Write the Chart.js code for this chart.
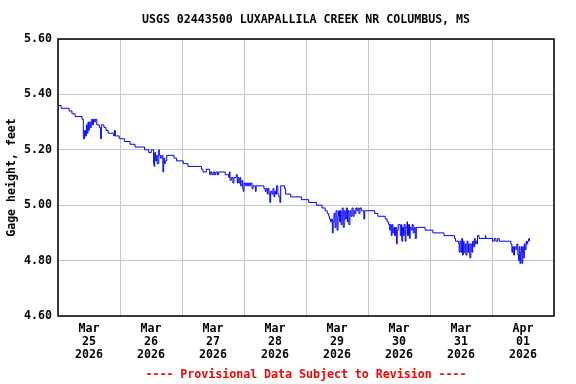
<!DOCTYPE html>
<html>
<head>
<meta charset="utf-8">
<script src="https://cdn.jsdelivr.net/npm/chart.js@4.4.0/dist/chart.umd.min.js"></script>
<style>
  html, body { margin: 0; padding: 0; background: #fff; }
  canvas { display: block; }
</style>
</head>
<body>
<canvas id="chart" width="576" height="384"></canvas>
<script>
// hours since 2026-03-25 00:00 and gage height in feet
const hours = [
  0.0, 1.2, 4.3, 5.4, 6.6, 9.3, 9.8, 10.3, 10.6, 11.0, 11.3, 11.6, 11.9, 12.1, 12.5, 12.9,
  13.4, 13.7, 14.2, 14.4, 15.0, 16.0, 16.5, 16.8, 17.8, 18.6, 19.4, 21.6, 21.9, 22.2, 23.7,
  25.7, 27.9, 29.8, 33.5, 35.1, 36.1, 37.0, 37.2, 37.4, 37.8, 38.2, 38.4, 39.0, 39.2, 39.7,
  40.2, 40.6, 40.9, 41.3, 41.5, 42.1, 44.9, 45.9, 48.5, 50.3, 55.5, 56.1, 57.4, 58.7, 59.1,
  59.6, 60.1, 60.6, 61.1, 61.7, 62.2, 64.7, 66.1, 66.3, 66.6, 67.1, 67.7, 68.1, 69.0, 69.4,
  69.7, 70.0, 70.4, 70.7, 71.2, 71.5, 71.7, 72.0, 72.5, 72.9, 73.3, 73.8, 74.2, 74.6, 75.1,
  75.5, 76.4, 76.7, 79.7, 80.2, 80.6, 81.0, 81.3, 81.7, 82.0, 82.3, 82.8, 83.2, 83.6, 83.9,
  84.2, 84.6, 85.1, 85.5, 85.9, 86.2, 87.7, 88.1, 90.1, 94.2, 97.0, 100.0, 102.2, 103.4,
  104.2, 104.8, 105.1, 105.5, 105.8, 106.2, 106.5, 106.8, 107.2, 107.6, 108.0, 108.4, 108.6,
  109.0, 109.4, 109.6, 110.0, 110.4, 110.8, 111.2, 111.6, 112.0, 112.2, 112.6, 113.0, 113.4,
  113.8, 114.2, 114.6, 114.9, 115.3, 115.7, 116.1, 116.5, 116.9, 117.4, 118.4, 118.7, 122.6,
  123.8, 126.7, 127.4, 128.0, 128.4, 128.6, 129.0, 129.3, 129.6, 130.0, 130.3, 130.7, 131.1,
  131.3, 131.7, 132.5, 132.9, 133.1, 133.4, 133.8, 134.0, 134.4, 134.7, 135.1, 135.3, 135.7,
  136.1, 136.3, 136.7, 137.1, 137.5, 137.9, 138.3, 138.7, 142.1, 145.1, 149.4, 153.5, 153.9,
  155.1, 155.3, 155.6, 156.0, 156.3, 156.6, 156.9, 157.2, 157.6, 157.9, 158.3, 158.7, 158.9,
  159.4, 159.8, 160.2, 160.5, 160.9, 161.3, 161.5, 161.8, 162.2, 162.4, 163.0, 165.4, 165.6,
  168.2, 168.9, 169.5, 170.2, 170.8, 175.3, 175.7, 176.0, 176.4, 176.7, 177.2, 177.6, 178.0,
  178.3, 178.5, 178.8, 179.1, 179.3, 179.6, 179.9, 180.3, 180.5, 180.8, 181.2, 181.4, 181.8,
  182.2, 182.5
];
const gageFt = [
  5.36, 5.35, 5.34, 5.33, 5.32, 5.31, 5.24, 5.27, 5.25, 5.29, 5.26, 5.30, 5.27, 5.30, 5.28, 5.31,
  5.29, 5.31, 5.30, 5.31, 5.29, 5.28, 5.24, 5.29, 5.28, 5.27, 5.26, 5.25, 5.27, 5.25, 5.24,
  5.23, 5.22, 5.21, 5.20, 5.19, 5.20, 5.15, 5.14, 5.19, 5.16, 5.18, 5.15, 5.20, 5.18, 5.17,
  5.18, 5.12, 5.17, 5.15, 5.16, 5.18, 5.17, 5.16, 5.15, 5.14, 5.13, 5.12, 5.13, 5.11, 5.12,
  5.11, 5.12, 5.11, 5.12, 5.11, 5.12, 5.11, 5.10, 5.12, 5.09, 5.10, 5.08, 5.10, 5.11, 5.08,
  5.10, 5.08, 5.10, 5.07, 5.09, 5.06, 5.05, 5.08, 5.07, 5.08, 5.07, 5.08, 5.07, 5.08, 5.06,
  5.07, 5.05, 5.07, 5.06, 5.05, 5.06, 5.04, 5.06, 5.04, 5.01, 5.05, 5.04, 5.06, 5.03, 5.05,
  5.04, 5.07, 5.04, 5.03, 5.01, 5.07, 5.06, 5.04, 5.03, 5.02, 5.01, 5.00, 4.99, 4.98,
  4.97, 4.96, 4.95, 4.94, 4.95, 4.90, 4.94, 4.97, 4.92, 4.98, 4.91, 4.96, 4.98,
  4.94, 4.98, 4.93, 4.99, 4.92, 4.98, 4.95, 4.99, 4.94, 4.98, 4.93, 4.98, 4.96,
  4.99, 4.96, 4.98, 4.97, 4.99, 4.98, 4.99, 4.97, 4.99, 4.98, 4.95, 4.98, 4.97,
  4.96, 4.95, 4.94, 4.93, 4.91, 4.93, 4.89, 4.93, 4.90, 4.92, 4.89, 4.92, 4.86,
  4.91, 4.93, 4.89, 4.93, 4.87, 4.92, 4.89, 4.93, 4.87, 4.92, 4.94, 4.89, 4.93,
  4.88, 4.92, 4.91, 4.93, 4.90, 4.92, 4.88, 4.92, 4.91, 4.90, 4.89, 4.88, 4.87,
  4.86, 4.83, 4.87, 4.83, 4.88, 4.82, 4.87, 4.83, 4.86, 4.82, 4.87, 4.83, 4.86,
  4.81, 4.86, 4.83, 4.87, 4.85, 4.88, 4.86, 4.87, 4.86, 4.89, 4.88, 4.89, 4.88,
  4.87, 4.88, 4.87, 4.88, 4.87, 4.86, 4.83, 4.85, 4.82, 4.85, 4.84, 4.86, 4.82,
  4.80, 4.85, 4.79, 4.83, 4.85, 4.79, 4.85, 4.81, 4.86, 4.84, 4.87, 4.86, 4.87,
  4.88, 4.87
];
// day labels, centred on each day (noon)
const dayLabels = ['Mar 25 2026', 'Mar 26 2026', 'Mar 27 2026', 'Mar 28 2026',
  'Mar 29 2026', 'Mar 30 2026', 'Mar 31 2026', 'Apr 01 2026'];
const yTicks = [4.60, 4.80, 5.00, 5.20, 5.40, 5.60];

const chartTitle = 'USGS 02443500 LUXAPALLILA CREEK NR COLUMBUS, MS';
const footerText = '---- Provisional Data Subject to Revision ----';

const FONT = '"DejaVu Sans Mono", "Liberation Mono", monospace';
const font = { family: FONT, size: 11.6, weight: 'bold', lineHeight: 1.15 };

const usgsPlugin = {
  id: 'usgsFrame',
  beforeDraw(chart) {
    const ctx = chart.ctx;
    ctx.save();
    ctx.fillStyle = '#fff';
    ctx.fillRect(0, 0, chart.width, chart.height);
    ctx.restore();
  },
  afterDatasetsDraw(chart) {
    const { ctx, chartArea: a } = chart;
    ctx.save();
    ctx.strokeStyle = '#000';
    ctx.lineWidth = 1.5;
    ctx.strokeRect(a.left, a.top, a.right - a.left, a.bottom - a.top);
    ctx.restore();
  },
  afterDraw(chart) {
    const { ctx, chartArea: a } = chart;
    const cx = (a.left + a.right) / 2;
    ctx.save();
    ctx.font = 'bold 11.6px ' + FONT;
    ctx.textAlign = 'center';
    ctx.textBaseline = 'middle';
    ctx.fillStyle = '#000';
    ctx.fillText(chartTitle, cx, 20);
    ctx.fillStyle = '#ff0000';
    ctx.fillText(footerText, cx, 375);
    ctx.restore();
  }
};

const points = hours.map((h, i) => ({ x: h, y: gageFt[i] }));

new Chart(document.getElementById('chart'), {
  type: 'line',
  data: {
    datasets: [{
      data: points,
      borderColor: '#0000ff',
      borderWidth: 1,
      pointRadius: 0,
      stepped: true,
      fill: false
    }]
  },
  options: {
    responsive: false,
    animation: false,
    layout: { padding: { top: 39, right: 22, bottom: 0, left: 0 } },
    plugins: {
      legend: { display: false },
      tooltip: { enabled: false },
      title: { display: false }
    },
    scales: {
      x: {
        type: 'linear',
        min: 0,
        max: dayLabels.length * 24,
        afterFit(s) { s.height = 68; },
        border: { display: false },
        grid: {
          drawTicks: false,
          color: (c) => (c.tick && c.tick.value % 24 === 0) ? '#c8c8c8' : 'rgba(0,0,0,0)',
          lineWidth: 1
        },
        ticks: {
          stepSize: 12,
          autoSkip: false,
          maxRotation: 0,
          padding: 6,
          color: '#000',
          font: font,
          callback: (v) => {
            if (v % 24 !== 12) return '';
            const lbl = dayLabels[Math.floor(v / 24)];
            return lbl ? lbl.split(' ') : '';
          }
        }
      },
      y: {
        min: yTicks[0],
        max: yTicks[yTicks.length - 1],
        afterFit(s) { s.width = 58; },
        afterBuildTicks(s) { s.ticks = yTicks.map(v => ({ value: v })); },
        border: { display: false },
        grid: { drawTicks: false, color: '#c8c8c8', lineWidth: 1 },
        ticks: {
          padding: 6,
          color: '#000',
          font: font,
          callback: (v) => Number(v).toFixed(2)
        },
        title: {
          display: true,
          text: 'Gage height, feet',
          color: '#000',
          font: font,
          padding: { top: 5, bottom: 0 }
        }
      }
    }
  },
  plugins: [usgsPlugin]
});
</script>
</body>
</html>
